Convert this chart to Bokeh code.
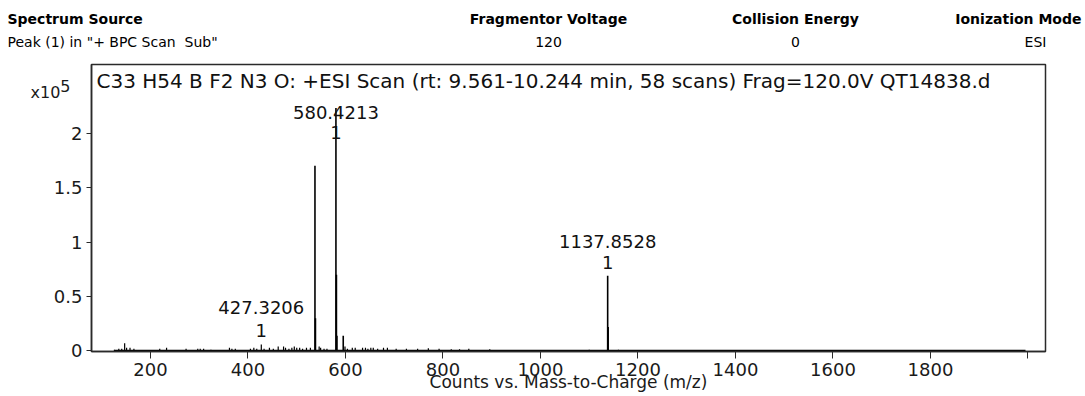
from bokeh.plotting import figure
from bokeh.layouts import column
from bokeh.models import Range1d, Label, FixedTicker, LinearAxis, AllLabels
from bokeh.core.properties import value
from bokeh.embed import file_html
from bokeh.resources import INLINE

# ---- data (intensity in units of 1e5 counts) ----
major_mz = [537.4, 538.4, 580.4213, 581.42, 582.42, 595.4, 1137.8528, 1138.86]
major_int = [1.70, 0.30, 2.23, 0.70, 0.14, 0.14, 0.69, 0.22]

noise_mz = [126, 135, 141, 147, 151, 158, 166, 219, 233, 273, 297, 302, 309, 324,
            362, 367, 374, 405, 412, 418, 427.3206, 433, 444, 452, 462, 473, 477,
            484, 490, 495, 500, 506, 512, 520, 528, 546, 549, 556, 562, 599, 604,
            614, 620, 635, 641, 646, 652, 657, 666, 678, 686, 704, 725, 748, 770,
            792, 817, 834, 853, 896, 1100, 1160]
noise_int = [0.01, 0.02, 0.02, 0.07, 0.03, 0.03, 0.02, 0.02, 0.03, 0.02, 0.02, 0.02,
             0.02, 0.01, 0.03, 0.02, 0.02, 0.02, 0.03, 0.02, 0.06, 0.02, 0.03, 0.02,
             0.04, 0.04, 0.03, 0.02, 0.03, 0.04, 0.03, 0.03, 0.02, 0.03, 0.03, 0.04,
             0.03, 0.02, 0.02, 0.04, 0.02, 0.03, 0.03, 0.03, 0.03, 0.02, 0.03, 0.03,
             0.02, 0.03, 0.03, 0.02, 0.02, 0.02, 0.025, 0.02, 0.015, 0.015, 0.02,
             0.015, 0.01, 0.01]

baseline_mz = [126, 1995]
baseline_int = [0, 0]

peak_labels = ["580.4213", "1137.8528", "427.3206"]
peak_label_mz = [580.4213, 1137.8528, 427.3206]
peak_charge = ["1", "1", "1"]

x_ticks = [200, 400, 600, 800, 1000, 1200, 1400, 1600, 1800, 2000]
y_ticks = [0, 0.5, 1, 1.5, 2]

title_text = "C33 H54 B F2 N3 O: +ESI Scan (rt: 9.561-10.244 min, 58 scans) Frag=120.0V QT14838.d"
x_axis_title = "Counts vs. Mass-to-Charge (m/z)"
y_scale_text = ["x10\u00a0\u00a0", "5"]

header_names = ["Spectrum Source", "Fragmentor Voltage", "Collision Energy", "Ionization Mode"]
header_values = ['Peak (1) in "+ BPC Scan\u00a0 Sub"', "120", "0", "ESI"]

FONT = "DejaVu Sans"
W = 1085

# ---- header strip ----
HH = 56
hdr = figure(width=W, height=HH, output_backend="svg", toolbar_location=None,
             x_range=Range1d(0, W), y_range=Range1d(HH, 0),
             x_axis_type=None, y_axis_type=None,
             min_border_left=0, min_border_right=0, min_border_top=0, min_border_bottom=0)
hdr.title.visible = False
hdr.grid.visible = False
hdr.outline_line_color = None
hdr.background_fill_color = "white"
hdr.border_fill_color = "white"

name_x = [7, 548, 795, 1081]
name_align = ["left", "center", "center", "right"]
val_x = [7, 548, 795, 1035]
val_align = ["left", "center", "center", "center"]
for name, val, nx, na, vx, va in zip(header_names, header_values, name_x, name_align,
                                     val_x, val_align):
    hdr.text(x=[nx], y=[18], text=[name], text_align=na, text_baseline="middle",
             text_font=value(FONT), text_font_size="14px", text_font_style="bold",
             text_color="#000000")
    hdr.text(x=[vx], y=[41], text=[val], text_align=va, text_baseline="middle",
             text_font=value(FONT), text_font_size="14px",
             text_color="#000000")

# ---- main spectrum ----
MH = 340
FL, FB = 91, 351  # frame left / bottom in page coords
p = figure(width=W, height=MH, output_backend="svg", toolbar_location=None,
           x_range=Range1d(79, 2036), y_range=Range1d(-0.005, 2.63),
           min_border_left=91, min_border_right=40, min_border_top=8,
           min_border_bottom=45)
p.title.visible = False
p.xgrid.visible = False
p.ygrid.visible = False
p.outline_line_color = "#2a2a2a"
p.outline_line_width = 1.5
p.background_fill_color = "white"
p.border_fill_color = "white"

for fig in (hdr, p):
    try:
        fig.frame_align = False
    except Exception:
        pass

for ax in (p.xaxis[0], p.yaxis[0]):
    ax.axis_line_color = "#2a2a2a"
    ax.axis_line_width = 1.5
    ax.major_tick_line_color = "#2a2a2a"
    ax.minor_tick_line_color = None
    ax.major_tick_in = 0
    ax.major_label_text_font = FONT
    ax.major_label_text_font_size = "18px"
    ax.major_label_text_color = "#1a1a1a"

p.xaxis.ticker = FixedTicker(ticks=x_ticks)
p.xaxis.major_label_overrides = {2000: ""}
p.xaxis.major_tick_out = 7
p.xaxis.major_label_standoff = 4
p.xaxis.axis_label = x_axis_title
p.xaxis.axis_label_text_font = FONT
p.xaxis.axis_label_text_font_size = "17px"
p.xaxis.axis_label_text_font_style = "normal"
p.xaxis.axis_label_text_color = "#1a1a1a"
p.xaxis.axis_label_standoff = -7

p.yaxis.ticker = FixedTicker(ticks=y_ticks)
p.yaxis.major_label_overrides = {0: "0", 0.5: "0.5", 1: "1", 1.5: "1.5", 2: "2"}
p.yaxis.major_tick_out = 5
p.yaxis.major_label_standoff = 4

# scale factor text (x10^5) as labels of an extra, line-less axis
p.extra_y_ranges = {"scale": Range1d(-0.005, 2.63)}
sc_axis = LinearAxis(y_range_name="scale", ticker=FixedTicker(ticks=[2.375, 2.425]),
                     major_label_overrides={2.375: y_scale_text[0], 2.425: y_scale_text[1]},
                     major_label_policy=AllLabels(),
                     axis_line_color=None, major_tick_line_color=None,
                     minor_tick_line_color=None, major_tick_out=0, major_tick_in=0,
                     major_label_standoff=-20,
                     major_label_text_font=FONT, major_label_text_font_size="16px",
                     major_label_text_color="#1a1a1a")
p.add_layout(sc_axis, "left")

# spectrum
p.line(baseline_mz, baseline_int, line_color="black", line_width=2.2)
p.segment(x0=noise_mz, y0=[0] * len(noise_mz), x1=noise_mz, y1=noise_int,
          line_color="black", line_width=1.2)
p.segment(x0=major_mz, y0=[0] * len(major_mz), x1=major_mz, y1=major_int,
          line_color="black", line_width=1.6)

# inner title
p.add_layout(Label(x=96 - FL, y=FB - 80, x_units="screen", y_units="screen",
                   text=title_text, text_align="left", text_baseline="middle",
                   text_font=FONT, text_font_size="20px", text_color="#111111"))

# peak labels (x in data units, y in screen units)
label_y = [(112, 132), (241, 262), (307, 330)]
for t, c, m, (y1, y2) in zip(peak_labels, peak_charge, peak_label_mz, label_y):
    for txt, yy in ((t, y1), (c, y2)):
        p.add_layout(Label(x=m, y=FB - yy, x_units="data", y_units="screen",
                           text=txt, text_align="center", text_baseline="middle",
                           text_font=FONT, text_font_size="18px",
                           text_color="#111111"))

open("out.html", "w").write(file_html(column(hdr, p, spacing=0), INLINE))
